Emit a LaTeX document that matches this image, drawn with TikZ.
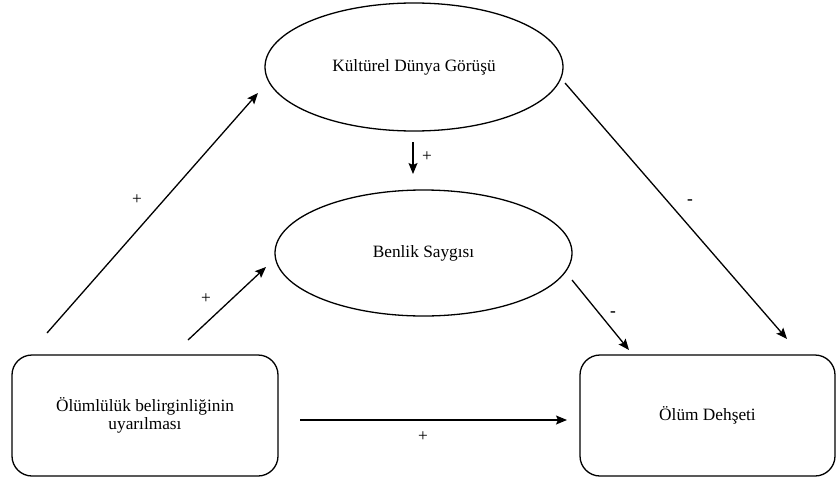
\documentclass[tikz,border=0pt]{standalone}
\usepackage{fontspec}
\setmainfont{Liberation Serif}
\usetikzlibrary{shapes.geometric,arrows.meta}
\begin{document}
\begin{tikzpicture}[x=1pt,y=-1pt,
  every node/.style={font=\fontsize{17.3}{18.5}\selectfont},
  oval/.style={draw,ellipse,line width=1.3pt,inner sep=0pt,minimum width=298pt,minimum height=128pt},
  rbox/.style={draw,rectangle,rounded corners=20pt,line width=1.3pt,align=center,inner sep=0pt},
  arr/.style={line width=1.3pt,-{Stealth[length=11pt,width=9pt,inset=2pt]}},
  lbl/.style={inner sep=0pt}]
\useasboundingbox (0,0) rectangle (837,479);
\node[oval] (kdg) at (414,67) {Kültürel Dünya Görüşü};
\node[oval,minimum width=297pt,minimum height=126pt] (bs) at (423.5,253) {Benlik Saygısı};
\node[rbox,minimum width=266pt,minimum height=121pt] (ob) at (145,415.5) {Ölümlülük belirginliğinin\\uyarılması};
\node[rbox,minimum width=255pt,minimum height=121pt] (od) at (707.5,415.5) {Ölüm Dehşeti};
% connector ends
\coordinate (a1s) at (47,333);  \coordinate (a1e) at (258,93);
\coordinate (a2s) at (188,340); \coordinate (a2e) at (266,267);
\coordinate (a3s) at (413,142); \coordinate (a3e) at (413,174);
\coordinate (a4s) at (565,83);  \coordinate (a4e) at (787,339);
\coordinate (a5s) at (572,280); \coordinate (a5e) at (629,350);
\coordinate (a6s) at (300,420); \coordinate (a6e) at (567,420);
\draw[arr] (a1s) -- (a1e);
\draw[arr] (a2s) -- (a2e);
\draw[arr] (a3s) -- (a3e);
\draw[arr] (a4s) -- (a4e);
\draw[arr] (a5s) -- (a5e);
\draw[arr] (a6s) -- (a6e);
\node[lbl] (l1) at (137,200) {+};
\node[lbl] (l2) at (206,299) {+};
\node[lbl] (l3) at (427,157) {+};
\node[lbl] (l4) at (690,202) {\textbf{-}};
\node[lbl] (l5) at (613,314) {\textbf{-}};
\node[lbl] (l6) at (423,437) {+};
\end{tikzpicture}
\end{document}
